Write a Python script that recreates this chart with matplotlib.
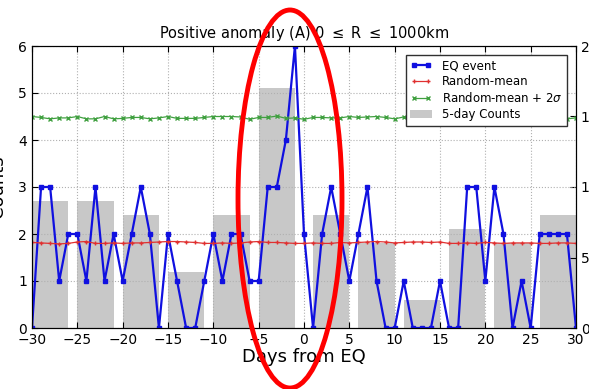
import numpy as np
import matplotlib
matplotlib.use('Agg')
import matplotlib.pyplot as plt
from matplotlib.patches import Ellipse

# daily counts of events, days -30 .. 30
days = list(range(-30, 31))
eq_event = [0, 3, 3, 1, 2, 2, 1, 3, 1, 2,
            1, 2, 3, 2, 0, 2, 1, 0, 0, 1,
            2, 1, 2, 2, 1, 1, 3, 3, 4, 6,
            2, 0, 2, 3, 2, 1, 2, 3, 1, 0,
            0, 1, 0, 0, 0, 1, 0, 0, 3, 3,
            1, 3, 2, 0, 1, 0, 2, 2, 2, 2,
            0]

random_mean = [1.82, 1.81, 1.80, 1.79, 1.80, 1.83, 1.84, 1.80, 1.80, 1.81,
               1.80, 1.81, 1.81, 1.82, 1.83, 1.84, 1.84, 1.83, 1.82, 1.80,
               1.80, 1.81, 1.80, 1.81, 1.83, 1.84, 1.82, 1.82, 1.81, 1.80,
               1.80, 1.81, 1.80, 1.80, 1.82, 1.81, 1.82, 1.83, 1.84, 1.83,
               1.81, 1.82, 1.83, 1.83, 1.82, 1.83, 1.80, 1.80, 1.81, 1.80,
               1.82, 1.81, 1.80, 1.81, 1.81, 1.81, 1.80, 1.80, 1.81, 1.81,
               1.80]

random_2sigma = [4.50, 4.48, 4.45, 4.47, 4.47, 4.50, 4.45, 4.45, 4.50, 4.45,
                 4.46, 4.48, 4.48, 4.45, 4.47, 4.50, 4.46, 4.46, 4.46, 4.48,
                 4.50, 4.50, 4.50, 4.49, 4.44, 4.48, 4.48, 4.51, 4.46, 4.47,
                 4.44, 4.48, 4.48, 4.47, 4.47, 4.50, 4.48, 4.49, 4.50, 4.48,
                 4.45, 4.49, 4.48, 4.50, 4.47, 4.48, 4.46, 4.49, 4.47, 4.50,
                 4.48, 4.47, 4.49, 4.46, 4.48, 4.47, 4.49, 4.48, 4.50, 4.45,
                 4.47]

# 5-day windows (start day) and their summed counts
bin_starts = [-30, -25, -20, -15, -10, -5, 1, 6, 11, 16, 21, 26]
bin_counts = [9, 9, 8, 4, 8, 17, 8, 6, 2, 7, 6, 8]

plt.rcParams['font.family'] = 'DejaVu Sans'
plt.rcParams['xtick.direction'] = 'in'
plt.rcParams['ytick.direction'] = 'in'

fig = plt.figure(figsize=(5.89, 3.89), dpi=100)
ax1 = fig.add_axes([32 / 589, 1 - 328 / 389, 544 / 589, 282 / 389])
ax2 = ax1.twinx()

ax2.bar(bin_starts, bin_counts, width=4, align='edge', color='#c8c8c8',
        edgecolor='none', label='5-day Counts')
ax2.set_ylim(0, 20)
ax2.set_yticks([0, 5, 10, 15, 20])
ax2.tick_params(axis='y', labelsize=10, length=4)

ax1.set_zorder(ax2.get_zorder() + 1)
ax1.patch.set_visible(False)

ax1.plot(days, eq_event, color='#1010e0', marker='s', markersize=3.5,
         linewidth=1.6, label='EQ event')
ax1.plot(days, random_mean, color='#e03030', marker='+', markersize=3,
         linewidth=0.9, label='Random-mean')
ax1.plot(days, random_2sigma, color='#40a040', marker='x', markersize=3,
         linewidth=0.9, label=r'Random-mean + 2$\sigma$')

ax1.set_xlim(-30, 30)
ax1.set_ylim(0, 6)
ax1.set_xticks(range(-30, 31, 5))
ax1.grid(True, color='#b0b0b0', linestyle=':', linewidth=0.8)
ax1.tick_params(axis='both', labelsize=10, length=4, top=True)
ax1.set_xlabel('Days from EQ', fontsize=13, labelpad=1)
ax1.set_ylabel('Counts', fontsize=13, labelpad=8)
ax1.set_title(r'Positive anomaly (A) 0 $\leq$ R $\leq$ 1000km', fontsize=10.5)

h1, l1 = ax1.get_legend_handles_labels()
h2, l2 = ax2.get_legend_handles_labels()
leg = ax1.legend(h1 + h2, l1 + l2, loc='upper right', fontsize=8.5,
                 numpoints=2, fancybox=False, framealpha=1,
                 bbox_to_anchor=(0.995, 0.99), borderpad=0.4,
                 labelspacing=0.25, handlelength=1.8, handletextpad=0.9)
leg.get_frame().set_edgecolor('#303030')

# red highlight ellipse around the event day
fig.add_artist(Ellipse((290 / 589, 1 - 199 / 389), 104 / 589, 378 / 389,
                       transform=fig.transFigure, fill=False,
                       edgecolor='red', linewidth=3.5, zorder=10))

fig.savefig('out.png', dpi=100)
